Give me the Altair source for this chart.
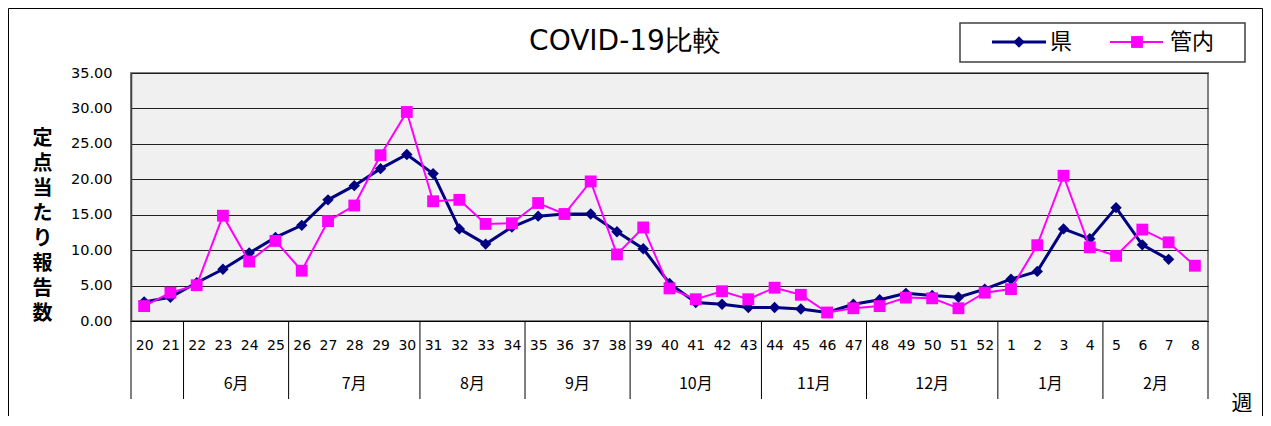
import json
import altair as alt
import pandas as pd

# ---------------- data ----------------
weeks = ["20", "21", "22", "23", "24", "25", "26", "27", "28", "29", "30",
         "31", "32", "33", "34", "35", "36", "37", "38", "39", "40", "41", "42",
         "43", "44", "45", "46", "47", "48", "49", "50", "51", "52",
         "1", "2", "3", "4", "5", "6", "7", "8"]
ken = [2.7, 3.35, 5.4, 7.3, 9.6, 11.8, 13.5, 17.1, 19.1, 21.5, 23.5,
       20.8, 13.0, 10.85, 13.25, 14.8, 15.1, 15.1, 12.6, 10.2, 5.3, 2.6, 2.36,
       1.9, 1.9, 1.7, 1.2, 2.36, 3.0, 3.9, 3.6, 3.35, 4.5,
       5.9, 7.0, 13.0, 11.6, 16.0, 10.75, 8.7, None]
kannai = [2.1, 4.0, 5.05, 14.86, 8.4, 11.3, 7.1, 14.1, 16.3, 23.4, 29.5,
          16.9, 17.1, 13.7, 13.8, 16.65, 15.1, 19.7, 9.4, 13.2, 4.6, 3.07, 4.2,
          3.07, 4.7, 3.7, 1.2, 1.8, 2.1, 3.3, 3.2, 1.8, 4.0,
          4.5, 10.7, 20.5, 10.4, 9.2, 12.9, 11.1, 7.8]
month_labels = ["", "6月", "7月", "8月", "9月", "10月", "11月", "12月", "1月", "2月"]
month_sizes = [2, 4, 5, 4, 4, 5, 4, 5, 4, 4]
series_names = ["県", "管内"]
series_colors = ["#000080", "#FF00FF"]
y_ticks = [0, 5, 10, 15, 20, 25, 30, 35]
title_text = "COVID-19比較"
y_title = "定点当たり報告数"
x_unit = "週"

# ---------------- tables ----------------
rows = []
for i, w in enumerate(weeks):
    if ken[i] is not None:
        rows.append({"idx": i, "series": series_names[0], "value": ken[i]})
    if kannai[i] is not None:
        rows.append({"idx": i, "series": series_names[1], "value": kannai[i]})
df = pd.DataFrame(rows)

groups = []
bounds = [-0.5]
start = 0
for lab, n in zip(month_labels, month_sizes):
    end = start + n - 1
    groups.append({"label": lab, "idx": (start + end) / 2})
    bounds.append(end + 0.5)
    start = end + 1
gdf = pd.DataFrame(groups)
bdf = pd.DataFrame({"idx": bounds})
sdf = pd.DataFrame({"series": series_names})

W, H = 1077, 248
PAD_L, PAD_T, PAD_R, PAD_B = 123, 65, 55, 95
NUMFONT = "DejaVu Sans"
JPFONT = "Noto Sans CJK JP"

xscale = alt.Scale(domain=[-0.5, len(weeks) - 0.5], nice=False, zero=False)
yscale = alt.Scale(domain=[0, 35], nice=False)
cscale = alt.Scale(domain=series_names, range=series_colors)

label_expr = json.dumps(weeks, ensure_ascii=False) + "[datum.value]"

x_axis = alt.Axis(values=list(range(len(weeks))), labelExpr=label_expr, ticks=False,
                  grid=False, title=None, labelFont=NUMFONT, labelFontSize=14,
                  labelColor="black", labelPadding=24, labelBaseline="middle",
                  labelOverlap=False, labelFlush=False, domainColor="black",
                  domainWidth=1)
y_axis = alt.Axis(values=y_ticks, format=".2f", grid=True, gridColor="#202020",
                  gridWidth=1, ticks=False, labelFont=NUMFONT, labelFontSize=14.5,
                  labelColor="black", labelPadding=19, domainColor="#404040",
                  domainWidth=1.5,
                  title=list(y_title), titleAngle=0, titleX=-89, titleY=55,
                  titleBaseline="top", titleAlign="center", titleFont=JPFONT,
                  titleFontSize=20, titleFontWeight="bold", titleLineHeight=25,
                  titleColor="black")


def X():
    return alt.X("idx:Q", scale=xscale, axis=x_axis)


def Y():
    return alt.Y("value:Q", scale=yscale, axis=y_axis)


color_enc = alt.Color("series:N", scale=cscale, legend=None)

base = alt.Chart(df)
ken_df = base.transform_filter(alt.datum.series == series_names[0])
kan_df = base.transform_filter(alt.datum.series == series_names[1])

ken_line = ken_df.mark_line(strokeWidth=3).encode(x=X(), y=Y(), color=color_enc)
ken_pts = ken_df.mark_point(shape="diamond", filled=True, size=130, opacity=1).encode(
    x=X(), y=Y(), color=color_enc)
kan_line = kan_df.mark_line(strokeWidth=2).encode(x=X(), y=Y(), color=color_enc)
kan_pts = kan_df.mark_point(shape="square", filled=True, size=140, opacity=1).encode(
    x=X(), y=Y(), color=color_enc)

separators = alt.Chart(bdf).mark_rule(color="black", strokeWidth=1).encode(
    x=X(), y=alt.value(H), y2=alt.value(H + 78))
month_text = alt.Chart(gdf).mark_text(font=JPFONT, fontSize=16, color="black",
                                      baseline="middle").encode(
    x=X(), y=alt.value(H + 63), text="label:N")

# outer chart frame
frame = alt.Chart(pd.DataFrame({"a": [0]})).mark_rect(
    fill=None, stroke="black", strokeWidth=1).encode(
    x=alt.value(0.5 - PAD_L), x2=alt.value(W + PAD_R - 0.5),
    y=alt.value(0.5 - PAD_T), y2=alt.value(H + PAD_B + 20))

# legend
leg_box = alt.Chart(pd.DataFrame({"a": [0]})).mark_rect(
    fill="white", stroke="#404040", strokeWidth=1.5).encode(
    x=alt.value(829), x2=alt.value(1114), y=alt.value(-50), y2=alt.value(-11))
s0 = alt.Chart(sdf).transform_filter(alt.datum.series == series_names[0])
s1 = alt.Chart(sdf).transform_filter(alt.datum.series == series_names[1])
leg0_line = s0.mark_rule(strokeWidth=3).encode(
    x=alt.value(861), x2=alt.value(915), y=alt.value(-31), color=color_enc)
leg0_pt = s0.mark_point(shape="diamond", filled=True, size=130, opacity=1).encode(
    x=alt.value(888), y=alt.value(-31), color=color_enc)
leg0_txt = s0.mark_text(font=JPFONT, fontSize=22, align="left", baseline="middle",
                        color="black").encode(x=alt.value(919), y=alt.value(-31), text="series:N")
leg1_line = s1.mark_rule(strokeWidth=2).encode(
    x=alt.value(979), x2=alt.value(1032), y=alt.value(-31), color=color_enc)
leg1_pt = s1.mark_point(shape="square", filled=True, size=140, opacity=1).encode(
    x=alt.value(1006), y=alt.value(-31), color=color_enc)
leg1_txt = s1.mark_text(font=JPFONT, fontSize=22, align="left", baseline="middle",
                        color="black").encode(x=alt.value(1039), y=alt.value(-31), text="series:N")

title = alt.Chart(pd.DataFrame({"t": [title_text]})).mark_text(
    font=NUMFONT, fontSize=28, align="center", baseline="middle", color="black").encode(
    x=alt.value(494), y=alt.value(-31), text="t:N")
unit = alt.Chart(pd.DataFrame({"t": [x_unit]})).mark_text(
    font=JPFONT, fontSize=21, align="center", baseline="bottom", color="black").encode(
    x=alt.value(1111), y=alt.value(H + 93), text="t:N")

chart = alt.layer(
    ken_line, frame, separators, month_text, ken_pts, kan_line, kan_pts,
    leg_box, leg0_line, leg0_pt, leg0_txt, leg1_line, leg1_pt, leg1_txt,
    title, unit,
).properties(
    width=W, height=H,
    autosize=alt.AutoSizeParams(type="none"),
    padding={"left": PAD_L, "top": PAD_T, "right": PAD_R, "bottom": PAD_B},
).configure_view(fill="#f0f0f0", stroke="#808080", strokeWidth=2)

chart.save("out.html", embed_options={"renderer": "svg", "actions": False})
